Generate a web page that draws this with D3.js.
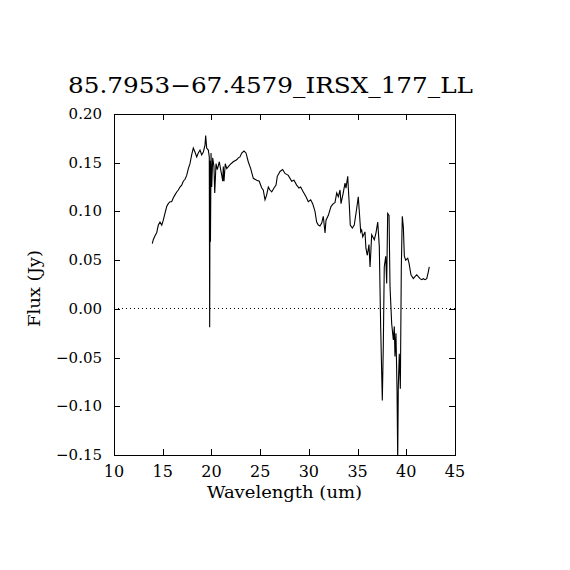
<!DOCTYPE html>
<html>
<head>
<meta charset="utf-8">
<script src="https://cdn.jsdelivr.net/npm/d3@7"></script>
<style>
  html, body { margin: 0; padding: 0; background: #fff; }
  svg { display: block; }
  text { font-family: "DejaVu Serif", "Liberation Serif", serif; fill: #000; }
</style>
</head>
<body>
<svg id="chart" width="570" height="570"></svg>
<script>
const titleText = "85.7953\u221267.4579_IRSX_177_LL";
const xLabel = "Wavelength (um)";
const yLabel = "Flux (Jy)";
const xTicks = [10, 15, 20, 25, 30, 35, 40, 45];
const yTicks = [-0.15, -0.10, -0.05, 0.00, 0.05, 0.10, 0.15, 0.20];

const wavelength = [
  13.93, 14.03, 14.21, 14.38, 14.55, 14.72, 14.90, 15.06, 15.23, 15.41,
  15.57, 15.75, 15.92, 16.09, 16.26, 16.44, 16.60, 16.77, 16.95, 17.11,
  17.29, 17.46, 17.63, 17.80, 17.97, 18.14, 18.31, 18.49, 18.65, 18.83,
  19.00, 19.17, 19.34, 19.41, 19.51, 19.68, 19.78, 19.82, 19.86, 19.90,
  19.96, 20.03, 20.13, 20.26, 20.34, 20.47, 20.60, 20.81, 20.95, 21.08,
  21.16, 21.22, 21.29, 21.42, 21.57, 21.91, 22.24, 22.59, 22.76, 22.93,
  23.11, 23.34, 23.55, 23.78, 24.03, 24.30, 24.65, 24.91, 25.16, 25.32,
  25.50, 25.67, 25.84, 26.01, 26.19, 26.42, 26.63, 26.76, 27.04, 27.31,
  27.55, 27.89, 28.24, 28.47, 28.75, 28.99, 29.16, 29.43, 29.71, 29.94,
  30.19, 30.39, 30.63, 30.80, 30.97, 31.14, 31.32, 31.48, 31.66, 31.76,
  32.00, 32.27, 32.51, 32.68, 32.86, 33.02, 33.20, 33.30, 33.53, 33.71,
  33.81, 33.99, 34.05, 34.15, 34.25, 34.46, 34.66, 34.91, 35.07, 35.18,
  35.32, 35.42, 35.53, 35.76, 35.86, 36.00, 36.17, 36.28, 36.45, 36.72,
  36.89, 37.07, 37.23, 37.37, 37.48, 37.54, 37.64, 37.74, 37.89, 37.99,
  38.09, 38.23, 38.33, 38.50, 38.67, 38.77, 38.84, 38.94, 39.05, 39.12,
  39.18, 39.28, 39.39, 39.49, 39.59, 39.70, 39.80, 39.94, 40.15, 40.28,
  40.48, 40.72, 40.89, 41.07, 41.23, 41.41, 41.58, 41.75, 41.92, 42.10,
  42.26, 42.36
];
const flux = [
  0.067, 0.071, 0.075, 0.078, 0.086, 0.089, 0.086, 0.091, 0.098, 0.105,
  0.108, 0.110, 0.110, 0.114, 0.117, 0.120, 0.122, 0.125, 0.127, 0.131,
  0.133, 0.137, 0.144, 0.149, 0.158, 0.165, 0.161, 0.156, 0.160, 0.163,
  0.158, 0.161, 0.168, 0.178, 0.165, 0.163, 0.156, -0.019, 0.152, 0.069,
  0.160, 0.125, 0.155, 0.146, 0.119, 0.149, 0.143, 0.151, 0.143, 0.136,
  0.131, 0.146, 0.131, 0.149, 0.144, 0.148, 0.151, 0.153, 0.155, 0.156,
  0.160, 0.162, 0.160, 0.151, 0.144, 0.134, 0.132, 0.131, 0.124, 0.122,
  0.112, 0.117, 0.125, 0.122, 0.120, 0.124, 0.127, 0.136, 0.141, 0.143,
  0.139, 0.137, 0.131, 0.132, 0.127, 0.124, 0.125, 0.120, 0.115, 0.110,
  0.112, 0.108, 0.100, 0.089, 0.086, 0.085, 0.088, 0.095, 0.078, 0.091,
  0.096, 0.105, 0.108, 0.109, 0.119, 0.115, 0.122, 0.108, 0.119, 0.129,
  0.124, 0.136, 0.124, 0.107, 0.086, 0.083, 0.086, 0.103, 0.115, 0.100,
  0.079, 0.081, 0.074, 0.079, 0.062, 0.055, 0.066, 0.043, 0.076, 0.071,
  0.078, 0.089, 0.064, -0.018, -0.068, -0.094, -0.039, 0.043, 0.054, 0.026,
  0.098, 0.096, 0.023, -0.015, -0.032, -0.018, -0.049, -0.025, -0.083, -0.155,
  -0.080, -0.046, -0.082, 0.043, 0.095, 0.084, 0.054, 0.050, 0.052, 0.047,
  0.035, 0.031, 0.033, 0.035, 0.033, 0.031, 0.030, 0.031, 0.030, 0.031,
  0.038, 0.043
];

const svg = d3.select("#chart");
const pLeft = 114, pRight = 455, pTop = 114, pBottom = 455;
const x = d3.scaleLinear().domain([10, 45]).range([pLeft, pRight]);
const y = d3.scaleLinear().domain([-0.15, 0.20]).range([pBottom, pTop]);
const tickLen = 6;

svg.append("defs").append("clipPath").attr("id", "clip")
  .append("rect").attr("x", pLeft).attr("y", pTop)
  .attr("width", pRight - pLeft).attr("height", pBottom - pTop);

// zero line
svg.append("line")
  .attr("x1", pLeft).attr("x2", pRight)
  .attr("y1", y(0)).attr("y2", y(0))
  .attr("stroke", "#000").attr("stroke-width", 1)
  .attr("stroke-dasharray", "1,3")
  .attr("shape-rendering", "crispEdges");

// spectrum
const pts = wavelength.map((w, i) => [w, flux[i]]);
svg.append("path")
  .datum(pts)
  .attr("clip-path", "url(#clip)")
  .attr("fill", "none")
  .attr("stroke", "#000")
  .attr("stroke-width", 1.1)
  .attr("d", d3.line().x(d => x(d[0])).y(d => y(d[1])));

// frame
svg.append("rect")
  .attr("x", pLeft).attr("y", pTop)
  .attr("width", pRight - pLeft).attr("height", pBottom - pTop)
  .attr("fill", "none").attr("stroke", "#000").attr("stroke-width", 1)
  .attr("shape-rendering", "crispEdges");

const fmtY = v => {
  const s = Math.abs(v).toFixed(2);
  return (v < -1e-9 ? "\u2212" : "") + s;
};

// axes using d3 axis generators (ticks inward)
const axB = svg.append("g").attr("transform", `translate(0,${pBottom})`)
  .call(d3.axisTop(x).tickValues(xTicks).tickSize(tickLen).tickFormat(""));
const axT = svg.append("g").attr("transform", `translate(0,${pTop})`)
  .call(d3.axisBottom(x).tickValues(xTicks).tickSize(tickLen).tickFormat(""));
const axL = svg.append("g").attr("transform", `translate(${pLeft},0)`)
  .call(d3.axisRight(y).tickValues(yTicks).tickSize(tickLen).tickFormat(""));
const axR = svg.append("g").attr("transform", `translate(${pRight},0)`)
  .call(d3.axisLeft(y).tickValues(yTicks).tickSize(tickLen).tickFormat(""));
[axB, axT, axL, axR].forEach(g => {
  g.select(".domain").remove();
  g.selectAll("line").attr("stroke", "#000").attr("shape-rendering", "crispEdges");
});

// tick labels
svg.append("g").selectAll("text").data(xTicks).join("text")
  .attr("x", d => x(d)).attr("y", 477)
  .attr("text-anchor", "middle")
  .attr("font-size", 16)
  .text(d => d);

svg.append("g").selectAll("text").data(yTicks).join("text")
  .attr("x", 102).attr("y", d => y(d) + 5)
  .attr("text-anchor", "end")
  .attr("font-size", 15)
  .text(fmtY);

// titles
svg.append("text")
  .attr("x", 68).attr("y", 93)
  .attr("font-size", 22)
  .attr("textLength", 405)
  .attr("lengthAdjust", "spacingAndGlyphs")
  .text(titleText);

svg.append("text")
  .attr("x", 207).attr("y", 498)
  .attr("font-size", 16)
  .attr("textLength", 155)
  .attr("lengthAdjust", "spacingAndGlyphs")
  .text(xLabel);

svg.append("text")
  .attr("transform", "translate(40,327) rotate(-90)")
  .attr("font-size", 16)
  .attr("textLength", 77)
  .attr("lengthAdjust", "spacingAndGlyphs")
  .text(yLabel);
</script>
</body>
</html>
